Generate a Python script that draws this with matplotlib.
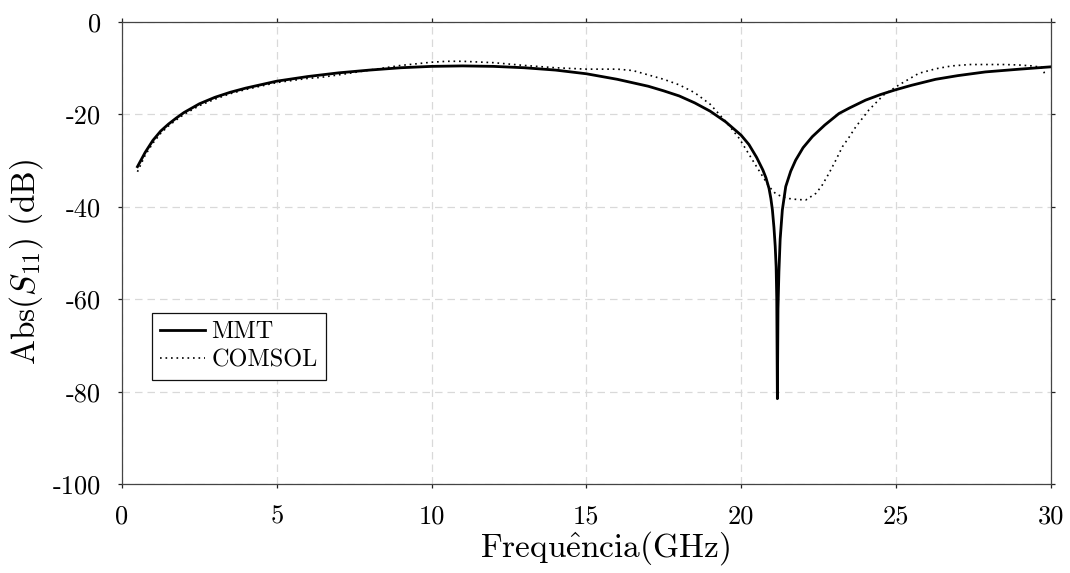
import matplotlib
matplotlib.use("Agg")
import matplotlib.pyplot as plt

plt.rcParams["font.family"] = ["cmr10", "DejaVu Serif"]
plt.rcParams["mathtext.fontset"] = "cm"
plt.rcParams["axes.unicode_minus"] = False
plt.rcParams["axes.formatter.use_mathtext"] = True

# MMT curve (solid)
mmt_freq = [0.5, 0.75, 1.0, 1.25, 1.5, 1.75, 2.0, 2.5, 3.0, 3.5, 4.0, 5.0, 6.0, 7.0, 8.0,
            9.0, 10.0, 11.0, 12.0, 13.0, 14.0, 15.0, 16.0, 17.0, 17.5, 18.0, 18.5, 19.0,
            19.5, 20.0, 20.25, 20.5, 20.7, 20.8, 20.9, 20.96, 21.01, 21.06, 21.1, 21.13,
            21.15, 21.17, 21.19, 21.22, 21.26, 21.33, 21.44, 21.6, 21.76, 22.0, 22.3, 22.7,
            23.16, 23.5, 24.02, 24.5, 24.97, 25.5, 26.28, 27.0, 27.89, 29.0, 30.0]
mmt_db = [-31.3, -28.2, -25.6, -23.6, -22.1, -20.8, -19.6, -17.7, -16.3, -15.2, -14.3, -12.8,
          -11.8, -11.0, -10.4, -9.9, -9.6, -9.5, -9.6, -9.9, -10.4, -11.2, -12.4, -13.9, -14.9,
          -16.0, -17.5, -19.3, -21.6, -24.5, -26.5, -29.3, -32.0, -33.7, -36.0, -38.2, -40.7,
          -44.5, -48.5, -53.0, -60.0, -81.5, -62.0, -54.0, -47.0, -40.7, -35.6, -32.3, -29.9,
          -27.2, -24.8, -22.3, -19.8, -18.6, -16.9, -15.7, -14.7, -13.7, -12.4, -11.6, -10.8,
          -10.2, -9.7]

# COMSOL curve (dotted)
comsol_freq = [0.5, 0.75, 1.0, 1.25, 1.5, 1.75, 2.0, 2.5, 3.0, 3.5, 4.0, 5.0, 6.0, 6.4, 7.14,
               8.0, 9.0, 10.0, 10.5, 11.0, 12.0, 13.0, 14.0, 15.0, 16.0, 16.5, 17.03, 17.5,
               18.0, 18.5, 19.0, 19.5, 19.94, 20.47, 20.9, 21.12, 21.33, 21.55, 21.8, 22.09,
               22.41, 22.6, 22.84, 23.05, 23.27, 23.48, 23.7, 24.13, 24.6, 25.1, 25.74, 26.3,
               26.8, 27.4, 27.9, 28.5, 28.97, 29.4, 29.7, 29.78, 29.83]
comsol_db = [-32.4, -28.8, -26.2, -24.1, -22.5, -21.2, -20.0, -18.1, -16.7, -15.5, -14.6, -13.1,
             -12.2, -12.0, -11.3, -10.4, -9.4, -8.7, -8.5, -8.5, -8.8, -9.4, -9.9, -10.2, -10.2,
             -10.5, -11.5, -12.4, -13.6, -15.3, -17.8, -21.5, -25.2, -31.0, -35.6, -37.2,
             -37.8, -38.2, -38.4, -38.5, -37.1, -35.5, -32.7, -30.0, -27.0, -25.0, -22.7,
             -19.0, -15.8, -13.6, -11.1, -10.1, -9.5, -9.2, -9.2, -9.2, -9.3, -9.5, -9.8,
             -10.8, -11.8]

xticks = [0, 5, 10, 15, 20, 25, 30]
yticks = [0, -20, -40, -60, -80, -100]
ytick_labels = ["0", "-20", "-40", "-60", "-80", "-100"]

fig = plt.figure(figsize=(10.7, 5.73), dpi=100)
ax = fig.add_axes([0.114, 0.155, 0.868, 0.8066])

ax.plot(mmt_freq, mmt_db, color="black", lw=2.0, label="MMT", solid_joinstyle="round")
ax.plot(comsol_freq, comsol_db, color="black", lw=1.2, ls=(0, (1, 2.3)), label="COMSOL")

ax.set_xlim(0, 30)
ax.set_ylim(-100, 0)
ax.set_xticks(xticks)
ax.set_xticklabels([str(t) for t in xticks])
ax.set_yticks(yticks)
ax.set_yticklabels(ytick_labels)

ax.grid(True, color="#d9d9d9", ls=(0, (6, 4)), lw=0.9)
ax.set_axisbelow(True)
for spine in ax.spines.values():
    spine.set_color("#444444")
    spine.set_linewidth(0.9)
ax.tick_params(direction="out", length=3, width=0.9, color="#222222", labelsize=19,
               top=True, right=True)
ax.tick_params(axis="y", pad=12)
ax.tick_params(axis="x", pad=12)

ax.set_xlabel(r"Frequ$\hat{\mathrm{e}}$ncia(GHz)", fontsize=24, labelpad=0)
ax.xaxis.label.set_x(0.52)
ax.set_ylabel(r"Abs($S_{11}$) (dB)", fontsize=24, labelpad=6)
ax.yaxis.label.set_y(0.48)

leg = ax.legend(loc="lower left", bbox_to_anchor=(0.032, 0.225), fontsize=17.5,
                frameon=True, fancybox=False, framealpha=1, edgecolor="#111111",
                handlelength=1.85, handletextpad=0.25, labelspacing=0.25, borderpad=0.35,
                borderaxespad=0)
leg.get_frame().set_linewidth(0.9)

fig.savefig("out.png", dpi=100)
